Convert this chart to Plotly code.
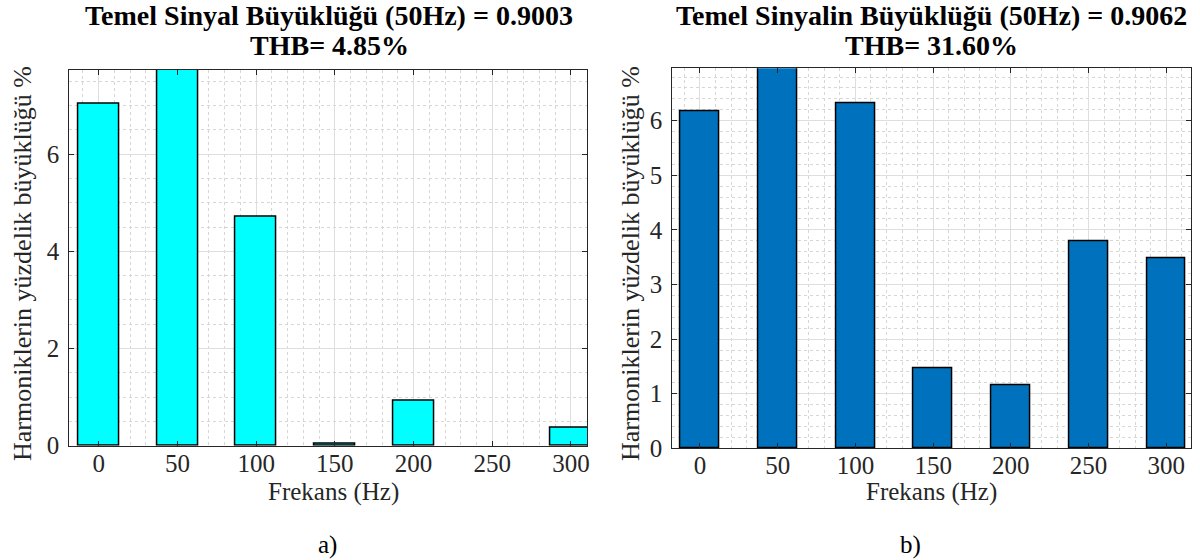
import plotly.graph_objects as go

freqs = [0, 50, 100, 150, 200, 250, 300]
vals_a = [7.05, 100.0, 4.71, 0.04, 0.92, 0.0, 0.37]
vals_b = [6.17, 100.0, 6.32, 1.47, 1.15, 3.80, 3.48]
title_a = ["Temel Sinyal Büyüklüğü (50Hz) = 0.9003", "THB= 4.85%"]
title_b = ["Temel Sinyalin Büyüklüğü (50Hz) = 0.9062", "THB= 31.60%"]
xlabel = "Frekans (Hz)"
ylabel = "Harmoniklerin yüzdelik büyüklüğü %"
yticks_a = [0, 2, 4, 6]
yticks_b = [0, 1, 2, 3, 4, 5, 6]
xticks = [0, 50, 100, 150, 200, 250, 300]

W, H = 1200, 560
FONT = "Liberation Serif"
AX = "#262626"

def outline(vals):
    return [0 if v == 0 else 1.5 for v in vals]

fig = go.Figure()
fig.add_trace(go.Bar(x=freqs, y=vals_a, width=26,
                     marker=dict(color="#00FFFF", line=dict(color="black", width=outline(vals_a))),
                     xaxis="x", yaxis="y", showlegend=False))
fig.add_trace(go.Bar(x=freqs, y=vals_b, width=25,
                     marker=dict(color="#0072BD", line=dict(color="black", width=outline(vals_b))),
                     xaxis="x2", yaxis="y2", showlegend=False))

def xax(domain, rng, anchor):
    return dict(domain=domain, range=rng, tickvals=xticks, ticks="inside", ticklen=5, tickcolor=AX,
                showline=True, linecolor=AX, linewidth=1.2, mirror="ticks", anchor=anchor, automargin=False,
                showgrid=True, gridcolor="#dedede", gridwidth=1, zeroline=False, ticklabelstandoff=-5,
                minor=dict(dtick=10, tick0=0, showgrid=True, gridcolor="#d6d6d6", griddash="dot", ticks=""),
                tickfont=dict(family=FONT, size=25, color=AX))

def yax(domain, rng, tv, anchor, minor):
    return dict(domain=domain, range=rng, tickvals=tv, ticks="inside", ticklen=5, tickcolor=AX,
                showline=True, linecolor=AX, linewidth=1.2, mirror="ticks", anchor=anchor, automargin=False,
                showgrid=True, gridcolor="#dedede", gridwidth=1, zeroline=False, ticklabelstandoff=4,
                minor=dict(dtick=minor, tick0=0, showgrid=True, gridcolor="#d6d6d6", griddash="dot", ticks=""),
                tickfont=dict(family=FONT, size=25, color=AX))

xa = [69.3 / W, 587.3 / W]
xb = [672.3 / W, 1190.7 / W]
ya = [1 - 445.7 / H, 1 - 69.7 / H]
yb = [1 - 448.3 / H, 1 - 68.3 / H]

fig.update_layout(
    width=W, height=H, margin=dict(l=0, r=0, t=0, b=0, autoexpand=False),
    paper_bgcolor="white", plot_bgcolor="white",
    xaxis=xax(xa, [-18.7, 310.4], "y"),
    yaxis=yax(ya, [0, 7.74], yticks_a, "x", 0.5),
    xaxis2=xax(xb, [-17.8, 315.7], "y2"),
    yaxis2=yax(yb, [0, 6.96], yticks_b, "x2", 0.2),
    bargap=0,
)

def P(px, py):
    return px / W, 1 - py / H

anns = []
for cx, t in [(329, title_a), (931, title_b)]:
    for i, line in enumerate(t):
        x, y = P(cx, 15 + 30 * i)
        anns.append(dict(x=x, y=y, xref="paper", yref="paper", text="<b>" + line + "</b>", showarrow=False,
                         font=dict(family=FONT, size=28, color="black"), xanchor="center", yanchor="middle"))
for cx, cy in [(333, 492), (931, 492)]:
    x, y = P(cx, cy)
    anns.append(dict(x=x, y=y, xref="paper", yref="paper", text=xlabel, showarrow=False,
                     font=dict(family=FONT, size=25, color=AX), xanchor="center", yanchor="middle"))
for cx, cy in [(22, 264), (630, 264)]:
    x, y = P(cx, cy)
    anns.append(dict(x=x, y=y, xref="paper", yref="paper", text=ylabel, showarrow=False, textangle=-90,
                     font=dict(family=FONT, size=26, color=AX), xanchor="center", yanchor="middle"))
for cx, txt in [(327, "a)"), (910, "b)")]:
    x, y = P(cx, 545)
    anns.append(dict(x=x, y=y, xref="paper", yref="paper", text=txt, showarrow=False,
                     font=dict(family=FONT, size=25, color="black"), xanchor="center", yanchor="middle"))
fig.update_layout(annotations=anns)

fig.write_html("out.html", config={"displayModeBar": False},
               post_script="document.body.style.margin='0';document.body.style.overflow='hidden';")
